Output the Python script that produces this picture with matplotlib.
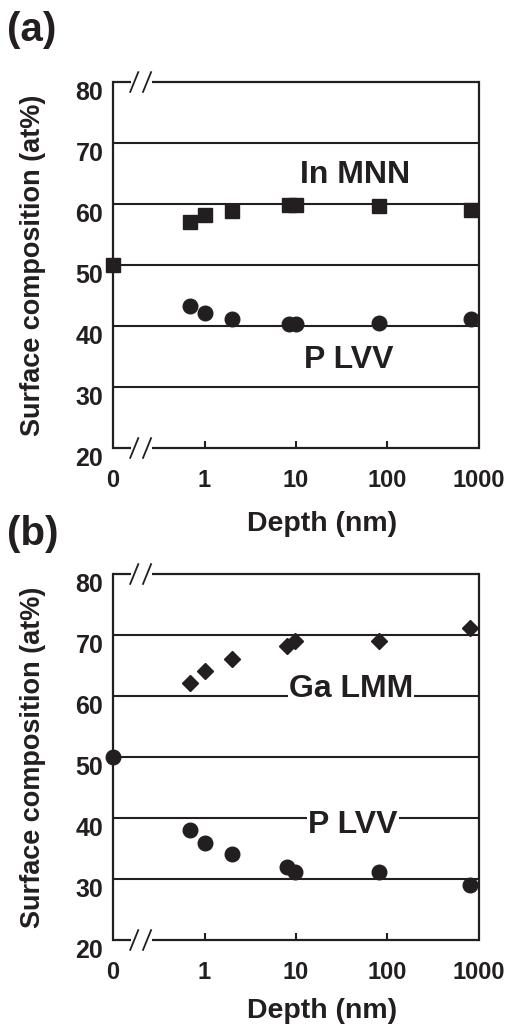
import matplotlib
matplotlib.use("Agg")
import matplotlib.pyplot as plt
from matplotlib.transforms import ScaledTranslation

plt.rcParams['font.family'] = ['Liberation Sans', 'DejaVu Sans']
plt.rcParams['font.weight'] = 'bold'

# depth values; 0 nm is drawn at the left edge of the log axis (0.1)
depth_a = [0.1, 0.7, 1.0, 2.0, 8.4, 10.0, 80.0, 815.0]
in_mnn = [50.0, 57.0, 58.2, 58.9, 59.8, 59.9, 59.7, 59.0]
depth_pa = [0.7, 1.0, 2.0, 8.4, 10.0, 80.0, 815.0]
p_lvv_a = [43.3, 42.1, 41.1, 40.3, 40.3, 40.5, 41.1]

depth_b = [0.7, 1.0, 2.0, 8.0, 9.8, 80.0, 800.0]
ga_lmm = [62.1, 64.1, 66.1, 68.2, 69.0, 69.0, 71.1]
depth_pb = [0.1, 0.7, 1.0, 2.0, 8.0, 9.8, 80.0, 800.0]
p_lvv_b = [50.0, 38.0, 35.9, 34.1, 32.0, 31.1, 31.1, 29.0]

xtick_pos = [0.1, 1, 10, 100, 1000]
xtick_lab = ['0', '1', '10', '100', '1000']
ytick_pos = [20, 30, 40, 50, 60, 70, 80]
grid_y = [30, 40, 50, 60, 70]

ink = '#231f20'

fig = plt.figure(figsize=(5.10, 10.28), dpi=100)
ax_a = fig.add_axes([0.2216, 0.5642, 0.7176, 0.356])
ax_b = fig.add_axes([0.2216, 0.0856, 0.7176, 0.356])


def setup(ax, label_y):
    ax.set_xscale('log')
    ax.set_xlim(0.1, 1000)
    ax.set_ylim(20, 80)
    for y in grid_y:
        ax.axhline(y, color=ink, lw=1.5, zorder=1)
    ax.spines['top'].set_visible(False)
    ax.spines['bottom'].set_visible(False)
    for s in ['left', 'right']:
        ax.spines[s].set_linewidth(1.6)
        ax.spines[s].set_color(ink)
    # top and bottom spines with a break near 0
    for yy in [0, 1]:
        ax.plot([0, 0.05], [yy, yy], transform=ax.transAxes, color=ink,
                lw=1.6, clip_on=False, solid_capstyle='butt')
        ax.plot([0.106, 1], [yy, yy], transform=ax.transAxes, color=ink,
                lw=1.6, clip_on=False, solid_capstyle='butt')
        for xc in [0.058, 0.093]:
            ax.plot([xc - 0.011, xc + 0.011], [yy - 0.027, yy + 0.027],
                    transform=ax.transAxes, color=ink, lw=1.3, clip_on=False)
    ax.set_xticks(xtick_pos)
    ax.set_xticklabels(xtick_lab)
    ax.minorticks_off()
    ax.tick_params(axis='x', direction='in', length=5, width=1.5, pad=15,
                   labelsize=17, colors=ink)
    ticks = ax.xaxis.get_major_ticks()
    ticks[0].tick1line.set_visible(False)
    ticks[-1].tick1line.set_visible(False)
    ax.set_yticks(ytick_pos)
    ax.tick_params(axis='y', length=0, pad=7, labelsize=18, colors=ink)
    for lab in ax.get_xticklabels() + ax.get_yticklabels():
        lab.set_fontweight('bold')
    # y labels sit a little below their lines in the original
    shift = ScaledTranslation(0, -0.08, fig.dpi_scale_trans)
    for lab in ax.get_yticklabels():
        lab.set_transform(lab.get_transform() + shift)
    ax.set_xlabel('Depth (nm)', fontsize=20.5, fontweight='bold', color=ink)
    ax.xaxis.set_label_coords(0.571, label_y)
    ax.set_ylabel('Surface composition (at%)', fontsize=19.5, fontweight='bold',
                  color=ink, labelpad=21)


setup(ax_a, -0.172)
setup(ax_b, -0.158)

ax_a.plot(depth_a, in_mnn, 's', color=ink, ms=10.5, clip_on=False, zorder=3)
ax_a.plot(depth_pa, p_lvv_a, 'o', color=ink, ms=10.5, clip_on=False, zorder=3)
ax_a.text(44, 64.8, 'In MNN', fontsize=23, fontweight='bold', color=ink,
          ha='center', va='center')
ax_a.text(38, 34.4, 'P LVV', fontsize=23, fontweight='bold', color=ink,
          ha='center', va='center')

ax_b.plot(depth_b, ga_lmm, 'D', color=ink, ms=7.8, clip_on=False, zorder=3)
ax_b.plot(depth_pb, p_lvv_b, 'o', color=ink, ms=10.5, clip_on=False, zorder=3)
ax_b.text(40, 61.2, 'Ga LMM', fontsize=23, fontweight='bold', color=ink,
          ha='center', va='center', zorder=4,
          bbox=dict(facecolor='white', edgecolor='none', pad=1))
ax_b.text(42, 38.9, 'P LVV', fontsize=23, fontweight='bold', color=ink,
          ha='center', va='center', zorder=4,
          bbox=dict(facecolor='white', edgecolor='none', pad=1))

fig.text(0.014, 0.971, '(a)', fontsize=29, fontweight='bold', color=ink,
         ha='left', va='center')
fig.text(0.014, 0.481, '(b)', fontsize=29, fontweight='bold', color=ink,
         ha='left', va='center')

fig.savefig('out.png', dpi=100)
